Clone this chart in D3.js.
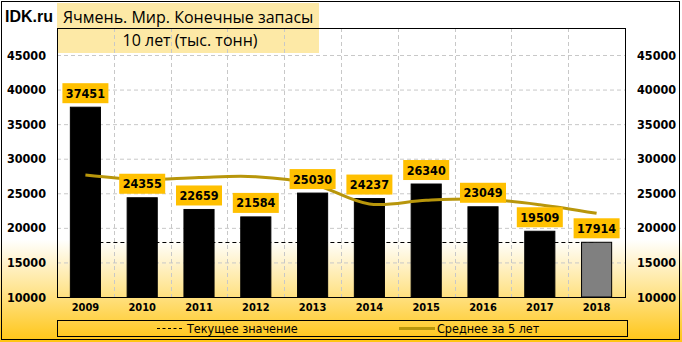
<!DOCTYPE html>
<html>
<head>
<meta charset="utf-8">
<script src="https://cdn.jsdelivr.net/npm/d3@7"></script>
<style>
  body { margin: 0; }
  svg { display: block; }
</style>
</head>
<body>
<svg width="682" height="342"></svg>
<script>
var years = ['2009', '2010', '2011', '2012', '2013', '2014', '2015', '2016', '2017', '2018'];
var stocks = [37451, 24355, 22659, 21584, 25030, 24237, 26340, 23049, 19509, 17914];
var avg5 = [27650, 27000, 27300, 27400, 26350, 23450, 24000, 24150, 23350, 22100];
var yTicks = [10000, 15000, 20000, 25000, 30000, 35000, 40000, 45000];
var titleLine1 = 'Ячмень. Мир. Конечные запасы';
var titleLine2 = '10 лет (тыс. тонн)';
var legendNames = ['Текущее значение', 'Среднее за 5 лет'];

const svg = d3.select('svg');
const W = 682, H = 342;
const plot = {left: 57, right: 625, top: 28, bottom: 297};
const axisFont = '"DejaVu Sans Condensed", "DejaVu Sans", sans-serif';

// background gradient
var defs = svg.append('defs');
var grad = defs.append('linearGradient').attr('id', 'bg')
	.attr('x1', 0).attr('y1', 0).attr('x2', 0).attr('y2', 1);
grad.append('stop').attr('offset', '0.70').attr('stop-color', '#ffffff');
grad.append('stop').attr('offset', '0.85').attr('stop-color', '#ffe48f');
grad.append('stop').attr('offset', '1').attr('stop-color', '#ffc514');
svg.append('rect').attr('width', W).attr('height', H).attr('fill', 'url(#bg)');

var x = d3.scaleBand().domain(years).range([plot.left, plot.right]).paddingInner(0.47).paddingOuter(0.235);
var band = d3.scaleBand().domain(years).range([plot.left, plot.right]);
var y = d3.scaleLinear().domain([10000, 45000]).range([plot.bottom, 55]);

// title box
svg.append('rect').attr('x', 57).attr('y', 3).attr('width', 262).attr('height', 50)
	.attr('fill', '#fde9a6');

// gridlines
var grid = svg.append('g').attr('stroke', '#c8c8c8').attr('stroke-dasharray', '4,3');
grid.selectAll('.hg').data(yTicks.slice(1)).enter().append('line')
	.attr('x1', plot.left).attr('x2', plot.right)
	.attr('y1', d => y(d) + 0.5).attr('y2', d => y(d) + 0.5);
grid.selectAll('.vg').data(years.slice(1)).enter().append('line')
	.attr('x1', d => Math.round(band(d)) + 0.5).attr('x2', d => Math.round(band(d)) + 0.5)
	.attr('y1', plot.top).attr('y2', plot.bottom);

// current value line (behind bars)
var last = stocks[stocks.length - 1];
svg.append('line')
	.attr('x1', x(years[0]) + x.bandwidth() / 2).attr('x2', x(years[9]) + x.bandwidth() / 2)
	.attr('y1', Math.round(y(last)) + 0.5).attr('y2', Math.round(y(last)) + 0.5)
	.attr('stroke', '#000').attr('stroke-dasharray', '4,3');

// bars
svg.selectAll('.bar').data(stocks).enter().append('rect')
	.attr('x', (d, i) => x(years[i]))
	.attr('y', d => y(d))
	.attr('width', x.bandwidth())
	.attr('height', d => plot.bottom - y(d))
	.attr('fill', (d, i) => i == stocks.length - 1 ? '#808080' : '#000')
	.attr('stroke', '#000');

// 5-year average
var line = d3.line()
	.x((d, i) => x(years[i]) + x.bandwidth() / 2)
	.y(d => y(d))
	.curve(d3.curveCatmullRom.alpha(0.5));
svg.append('path').datum(avg5).attr('d', line)
	.attr('fill', 'none').attr('stroke', '#b8960b').attr('stroke-width', 3);

// value labels
var lab = svg.selectAll('.lab').data(stocks).enter().append('g')
	.attr('transform', (d, i) => 'translate(' + (x(years[i]) + x.bandwidth() / 2) + ',' + (y(d) - 14) + ')');
lab.append('rect').attr('x', -23).attr('y', -10).attr('width', 46).attr('height', 20)
	.attr('fill', '#ffc000');
lab.append('text').text(d => d)
	.attr('text-anchor', 'middle').attr('dy', '0.36em')
	.style('font-family', axisFont).style('font-weight', 'bold').style('font-size', '12.5px');

// frame
svg.append('rect').attr('x', plot.left + 0.5).attr('y', plot.top + 0.5)
	.attr('width', plot.right - plot.left).attr('height', plot.bottom - plot.top)
	.attr('fill', 'none').attr('stroke', '#000');

// axes
var axL = svg.append('g').attr('transform', 'translate(46,0)')
	.call(d3.axisLeft(y).tickValues(yTicks).tickSize(0).tickPadding(0).tickFormat(d3.format('d')));
var axR = svg.append('g').attr('transform', 'translate(637,0)')
	.call(d3.axisRight(y).tickValues(yTicks).tickSize(0).tickPadding(0).tickFormat(d3.format('d')));
var axB = svg.append('g').attr('transform', 'translate(0,' + plot.bottom + ')')
	.call(d3.axisBottom(x).tickSize(0).tickPadding(6));
[axL, axR, axB].forEach(a => {
	a.select('.domain').remove();
	a.selectAll('text').attr('fill', '#000')
		.style('font-family', axisFont).style('font-weight', 'bold').style('font-size', '12.5px');
});
axB.selectAll('text').style('font-size', '11px');

// titles
svg.append('text').attr('x', 5).attr('y', 22).text('IDK.ru')
	.style('font-family', '"Liberation Sans", Arial, sans-serif').style('font-weight', 'bold').style('font-size', '16px');
svg.append('text').attr('x', 63).attr('y', 23).text(titleLine1)
	.style('font-family', '"Open Sans", sans-serif').style('font-size', '16px');
svg.append('text').attr('x', 190).attr('y', 46).attr('text-anchor', 'middle').text(titleLine2)
	.style('font-family', '"Open Sans", sans-serif').style('font-size', '16px');

// legend
var leg = svg.append('g');
leg.append('rect').attr('x', 57.5).attr('y', 320.5).attr('width', 570).attr('height', 16)
	.attr('fill', 'none').attr('stroke', '#000');
leg.append('line').attr('x1', 157).attr('x2', 183).attr('y1', 328.5).attr('y2', 328.5)
	.attr('stroke', '#000').attr('stroke-dasharray', '3,2.5');
leg.append('text').attr('x', 187).attr('y', 332.5).text(legendNames[0])
	.style('font-family', axisFont).style('font-size', '12.5px');
leg.append('line').attr('x1', 399).attr('x2', 435).attr('y1', 328.5).attr('y2', 328.5)
	.attr('stroke', '#b8960b').attr('stroke-width', 3);
leg.append('text').attr('x', 437).attr('y', 332.5).text(legendNames[1])
	.style('font-family', axisFont).style('font-size', '12.5px');

// outer border
svg.append('rect').attr('x', 1.5).attr('y', 1.5).attr('width', 678).attr('height', 338)
	.attr('fill', 'none').attr('stroke', '#000');
</script>
</body>
</html>
